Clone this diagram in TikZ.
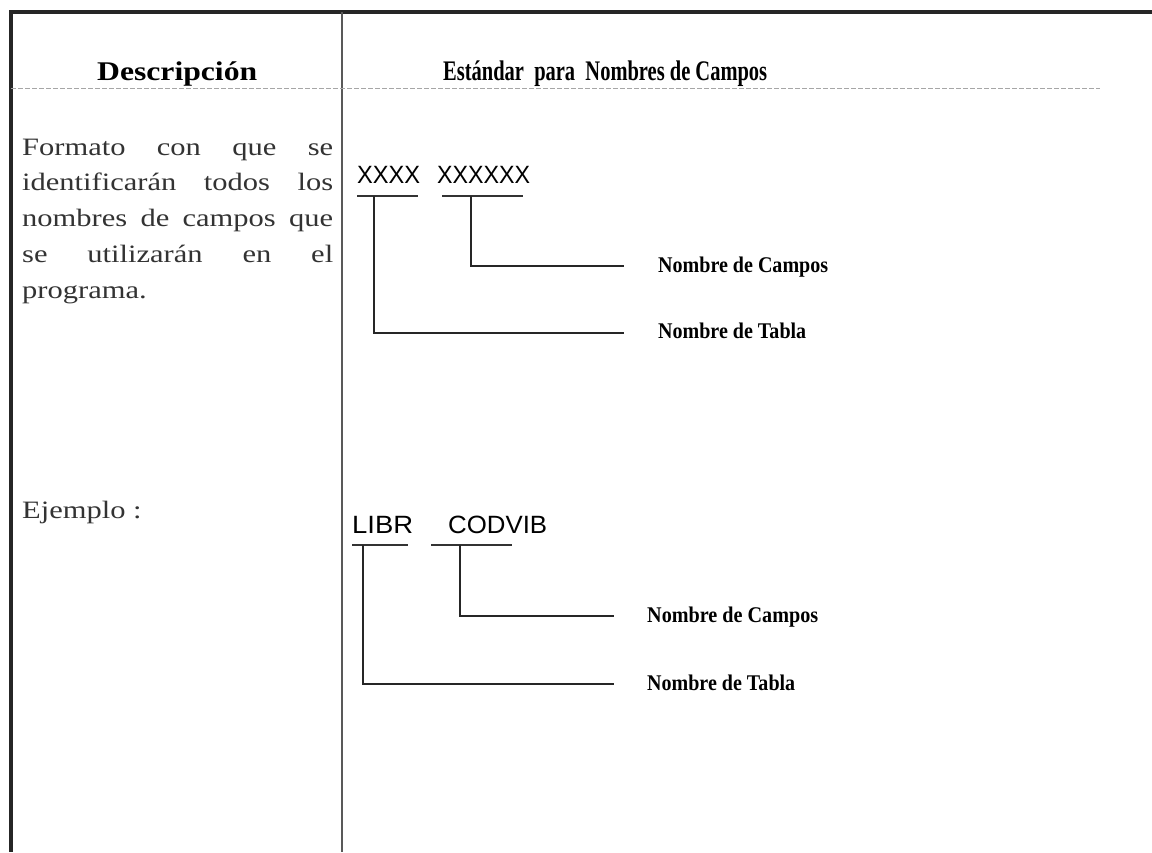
\documentclass[tikz,border=0pt]{standalone}
\usepackage{fontspec}
\usepackage{graphicx}
\setmainfont{Liberation Serif}
\newfontfamily\bodyfont[FakeStretch=1.22]{Liberation Serif}
\newfontfamily\labfont{Liberation Serif}
\newfontfamily\codefont{Liberation Sans}
\begin{document}
\begin{tikzpicture}[x=1pt,y=-1pt,
  txt/.style={inner sep=0pt, anchor=base west},
  body/.style={txt, text=black!80, font=\bodyfont\fontsize{25}{30}\selectfont},
  head/.style={txt, font=\fontsize{27}{30}\selectfont\bfseries},
  lab/.style={txt, font=\labfont\bfseries\fontsize{20}{24}\selectfont},
  code/.style={txt, font=\codefont\fontsize{25}{28}\selectfont},
  conn/.style={line width=2.8pt, black!85},
  rule/.style={line width=2pt, black!80},
  border/.style={line width=3.2pt, black!85},
  divider/.style={line width=2pt, black!65},
  sep/.style={line width=0.8pt, black!35, dash pattern=on 5pt off 2pt}]
\useasboundingbox (0,0) rectangle (1152,852);
\fill[white] (0,0) rectangle (1152,852);
% table frame
\coordinate (tl) at (11,12);
\coordinate (tr) at (1152,12);
\coordinate (bl) at (11,852);
\coordinate (mt) at (342,12);
\coordinate (mb) at (342,852);
\coordinate (sl) at (11,88);
\coordinate (sr) at (1100,88);
\draw[border] (tr) -- (tl) -- (bl);
\draw[divider] (mt) -- (mb);
\draw[sep] (sl) -- (sr);
% headers
\node[head] (hd1) at (97,80) {\resizebox{160pt}{\height}{Descripción}};
\node[head] (hd2) at (443,80) {\resizebox{324pt}{1.05\height}{Estándar\ \ para\ \ Nombres de Campos}};
% left column text
\node[body] (f1) at (22,155) {\makebox[311pt][s]{Formato con que se}};
\node[body] (f2) at (22,190) {\makebox[311pt][s]{identificarán todos los}};
\node[body] (f3) at (22,226) {\makebox[311pt][s]{nombres de campos que}};
\node[body] (f4) at (22,262) {\makebox[311pt][s]{se utilizarán en el}};
\node[body] (f5) at (22,298) {programa.};
\node[body] (ej) at (22,518) {Ejemplo :};
% first diagram
\node[code] (x1) at (357,183) {\resizebox{63pt}{\height}{XXXX}};
\node[code] (x2) at (437,183) {\resizebox{93pt}{\height}{XXXXXX}};
\coordinate (u1a) at (357,196); \coordinate (u1b) at (418,196);
\coordinate (u2a) at (442,196); \coordinate (u2b) at (523,196);
\draw[rule] (u1a) -- (u1b);
\draw[rule] (u2a) -- (u2b);
\coordinate (t1) at (374,196); \coordinate (e1) at (624,333);
\coordinate (t2) at (471,196); \coordinate (e2) at (624,266);
\draw[conn] (t1) |- (e1);
\draw[conn] (t2) |- (e2);
\node[lab] (lc1) at (658,272) {\resizebox{170pt}{1.12\height}{Nombre de Campos}};
\node[lab] (lt1) at (658,338) {\resizebox{148pt}{1.12\height}{Nombre de Tabla}};
% second diagram
\node[code] (c1) at (352,533) {\resizebox{61pt}{\height}{LIBR}};
\node[code] (c2) at (448,533) {\resizebox{99pt}{\height}{CODVIB}};
\coordinate (u3a) at (352,545); \coordinate (u3b) at (408,545);
\coordinate (u4a) at (431,545); \coordinate (u4b) at (512,545);
\draw[rule] (u3a) -- (u3b);
\draw[rule] (u4a) -- (u4b);
\coordinate (t3) at (363,545); \coordinate (e3) at (614,684);
\coordinate (t4) at (460,545); \coordinate (e4) at (614,616);
\draw[conn] (t3) |- (e3);
\draw[conn] (t4) |- (e4);
\node[lab] (lc2) at (647,622) {\resizebox{171pt}{1.12\height}{Nombre de Campos}};
\node[lab] (lt2) at (647,690) {\resizebox{148pt}{1.12\height}{Nombre de Tabla}};
\end{tikzpicture}
\end{document}
